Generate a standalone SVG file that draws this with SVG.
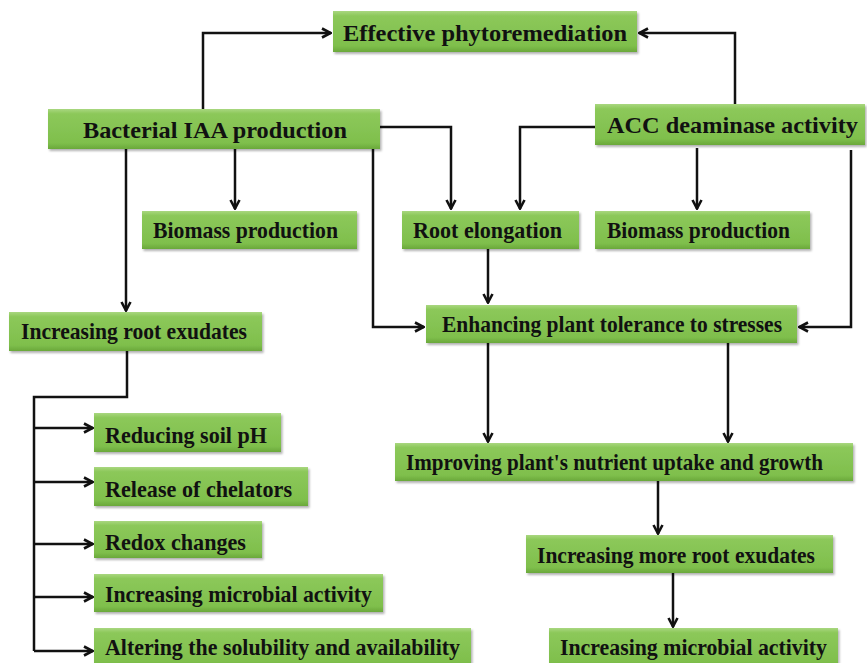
<svg xmlns="http://www.w3.org/2000/svg" width="867" height="663" viewBox="0 0 867 663">
<defs>
<linearGradient id="g" x1="0" y1="0" x2="0" y2="1">
<stop offset="0" stop-color="#a9d77f"/>
<stop offset="0.12" stop-color="#8cc85a"/>
<stop offset="0.85" stop-color="#7fbf4c"/>
<stop offset="1" stop-color="#6aa83a"/>
</linearGradient>
<filter id="sh" x="-5%" y="-10%" width="110%" height="130%">
<feDropShadow dx="1.5" dy="2" stdDeviation="1.2" flood-color="#000" flood-opacity="0.3"/>
</filter>
<marker id="ar" viewBox="0 0 12 12" refX="11" refY="6" markerWidth="12" markerHeight="12" markerUnits="userSpaceOnUse" orient="auto">
<path d="M2,1.5 L10.5,6 L2,10.5" fill="none" stroke="#111" stroke-width="2.6"/>
</marker>
</defs>
<style>
.b{fill:url(#g);filter:url(#sh)}
.t{font-family:"Liberation Serif","Times New Roman",serif;font-weight:bold;font-size:23px;fill:#111}
.c{fill:none;stroke:#111;stroke-width:2.5}
</style>
<rect width="867" height="663" fill="#fff"/>
<g id="connectors">
<path class="c" d="M203,109 V33 H331" marker-end="url(#ar)"/>
<path class="c" d="M735,104 V33 H639" marker-end="url(#ar)"/>
<path class="c" d="M380,127 H451 V209" marker-end="url(#ar)"/>
<path class="c" d="M595,127 H520 V209" marker-end="url(#ar)"/>
<path class="c" d="M235,149 V209" marker-end="url(#ar)"/>
<path class="c" d="M697,148 V209" marker-end="url(#ar)"/>
<path class="c" d="M126,149 V311" marker-end="url(#ar)"/>
<path class="c" d="M373,149 V327 H424" marker-end="url(#ar)"/>
<path class="c" d="M851,150 V327 H799" marker-end="url(#ar)"/>
<path class="c" d="M488,249 V303" marker-end="url(#ar)"/>
<path class="c" d="M488,343 V442" marker-end="url(#ar)"/>
<path class="c" d="M728,343 V442" marker-end="url(#ar)"/>
<path class="c" d="M658,481 V534" marker-end="url(#ar)"/>
<path class="c" d="M673,573 V627" marker-end="url(#ar)"/>
<path class="c" d="M127,351 V397 H34 V651"/>
<path class="c" d="M34,428 H93" marker-end="url(#ar)"/>
<path class="c" d="M34,482 H93" marker-end="url(#ar)"/>
<path class="c" d="M34,544 H93" marker-end="url(#ar)"/>
<path class="c" d="M34,597 H93" marker-end="url(#ar)"/>
<path class="c" d="M34,651 H93" marker-end="url(#ar)"/>
</g>
<g id="effective"><rect class="b" x="333" y="11" width="304" height="41"/><text class="t" x="343" y="41" textLength="284" lengthAdjust="spacingAndGlyphs">Effective phytoremediation</text></g>
<g id="bacterial"><rect class="b" x="48" y="109" width="332" height="40"/><text class="t" x="83" y="138" textLength="264" lengthAdjust="spacingAndGlyphs">Bacterial IAA production</text></g>
<g id="acc"><rect class="b" x="595" y="104" width="270" height="41"/><text class="t" x="607" y="133" textLength="251" lengthAdjust="spacingAndGlyphs">ACC deaminase activity</text></g>
<g id="biomass1"><rect class="b" x="142" y="211" width="215" height="38"/><text class="t" x="153" y="238" textLength="185" lengthAdjust="spacingAndGlyphs">Biomass production</text></g>
<g id="root"><rect class="b" x="402" y="211" width="177" height="38"/><text class="t" x="413" y="238" textLength="149" lengthAdjust="spacingAndGlyphs">Root elongation</text></g>
<g id="biomass2"><rect class="b" x="595" y="211" width="215" height="38"/><text class="t" x="607" y="238" textLength="183" lengthAdjust="spacingAndGlyphs">Biomass production</text></g>
<g id="enhancing"><rect class="b" x="426" y="305" width="371" height="38"/><text class="t" x="442" y="332" textLength="340" lengthAdjust="spacingAndGlyphs">Enhancing plant tolerance to stresses</text></g>
<g id="exudates"><rect class="b" x="9" y="312" width="253" height="39"/><text class="t" x="21" y="339" textLength="226" lengthAdjust="spacingAndGlyphs">Increasing root exudates</text></g>
<g id="ph"><rect class="b" x="94" y="413" width="187" height="39"/><text class="t" x="105" y="443" textLength="162" lengthAdjust="spacingAndGlyphs">Reducing soil pH</text></g>
<g id="improving"><rect class="b" x="395" y="443" width="458" height="38"/><text class="t" x="406" y="470" textLength="417" lengthAdjust="spacingAndGlyphs">Improving plant's nutrient uptake and growth</text></g>
<g id="chelators"><rect class="b" x="94" y="467" width="214" height="39"/><text class="t" x="105" y="497" textLength="187" lengthAdjust="spacingAndGlyphs">Release of chelators</text></g>
<g id="redox"><rect class="b" x="94" y="521" width="168" height="37"/><text class="t" x="105" y="550" textLength="141" lengthAdjust="spacingAndGlyphs">Redox changes</text></g>
<g id="moreexudates"><rect class="b" x="526" y="535" width="307" height="38"/><text class="t" x="537" y="563" textLength="278" lengthAdjust="spacingAndGlyphs">Increasing more root exudates</text></g>
<g id="microbial1"><rect class="b" x="94" y="574" width="289" height="38"/><text class="t" x="105" y="602" textLength="267" lengthAdjust="spacingAndGlyphs">Increasing microbial activity</text></g>
<g id="altering"><rect class="b" x="94" y="628" width="377" height="40"/><text class="t" x="105" y="655" textLength="355" lengthAdjust="spacingAndGlyphs">Altering the solubility and availability</text></g>
<g id="microbial2"><rect class="b" x="549" y="628" width="289" height="40"/><text class="t" x="560" y="655" textLength="267" lengthAdjust="spacingAndGlyphs">Increasing microbial activity</text></g>
</svg>
